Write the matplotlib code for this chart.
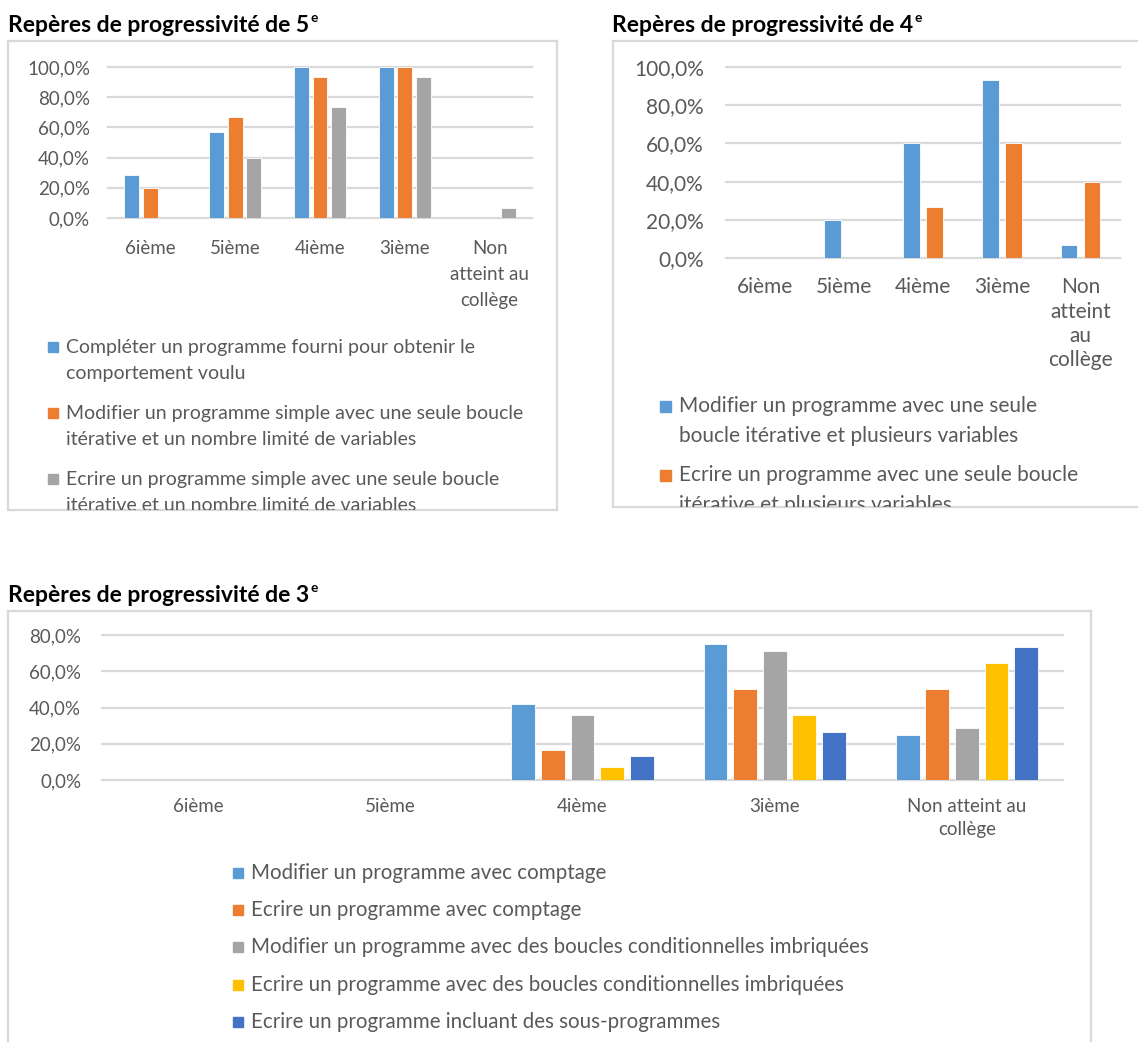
import matplotlib
matplotlib.use("Agg")
import matplotlib.pyplot as plt
from matplotlib.patches import Rectangle
from matplotlib.ticker import FuncFormatter
import numpy as np

plt.rcParams["font.family"] = ["Lato", "DejaVu Sans"]

W, H = 1138, 1042

# --- data -------------------------------------------------------------
cats_5e = ["6ième", "5ième", "4ième", "3ième", "Non\natteint au\ncollège"]
completer_5e = [28.6, 57.1, 100.0, 100.0, 0.0]
modifier_5e = [20.0, 66.7, 93.3, 100.0, 0.0]
ecrire_5e = [0.0, 40.0, 73.3, 93.3, 6.7]
labels_5e = [
    "Compléter un programme fourni pour obtenir le\ncomportement voulu",
    "Modifier un programme simple avec une seule boucle\nitérative et un nombre limité de variables",
    "Ecrire un programme simple avec une seule boucle\nitérative et un nombre limité de variables",
]

cats_4e = ["6ième", "5ième", "4ième", "3ième", "Non\natteint\nau\ncollège"]
modifier_4e = [0.0, 20.0, 60.0, 93.3, 6.7]
ecrire_4e = [0.0, 0.0, 26.7, 60.0, 40.0]
labels_4e = [
    "Modifier un programme avec une seule\nboucle itérative et plusieurs variables",
    "Ecrire un programme avec une seule boucle\nitérative et plusieurs variables",
]

cats_3e = ["6ième", "5ième", "4ième", "3ième", "Non atteint au\ncollège"]
mod_comptage_3e = [0.0, 0.0, 41.7, 75.0, 25.0]
ecr_comptage_3e = [0.0, 0.0, 16.7, 50.0, 50.0]
mod_boucles_3e = [0.0, 0.0, 35.7, 71.4, 28.6]
ecr_boucles_3e = [0.0, 0.0, 7.1, 35.7, 64.3]
sous_prog_3e = [0.0, 0.0, 13.3, 26.7, 73.3]
labels_3e = [
    "Modifier un programme avec comptage",
    "Ecrire un programme avec comptage",
    "Modifier un programme avec des boucles conditionnelles imbriquées",
    "Ecrire un programme avec des boucles conditionnelles imbriquées",
    "Ecrire un programme incluant des sous-programmes",
]

# --- styles -----------------------------------------------------------
BLUE, ORANGE, GREY, YELLOW, DBLUE = "#5B9BD5", "#ED7D31", "#A5A5A5", "#FFC000", "#4472C4"
TXT = "#595959"
LINE = "#D9D9D9"

fig = plt.figure(figsize=(W / 100, H / 100), dpi=100)


def px_rect(x0, y0, x1, y1):
    return [x0 / W, 1 - y1 / H, (x1 - x0) / W, (y1 - y0) / H]


def pct(v, pos):
    return f"{v:.1f}".replace(".", ",") + "%"


def frame(x0, y0, x1, y1):
    fr = fig.add_axes(px_rect(x0, y0, x1, y1), zorder=0)
    fr.set_xlim(x0, x1)
    fr.set_ylim(y1, y0)
    fr.set_xticks([])
    fr.set_yticks([])
    for s in fr.spines.values():
        s.set_color(LINE)
        s.set_linewidth(1.6)
    return fr


def title(x, y, main, sup, fs=16.5):
    t = fig.text(x / W, 1 - y / H, main, fontsize=fs, fontweight="bold",
                 va="center", ha="left", color="black")
    bb = t.get_window_extent(renderer=fig.canvas.get_renderer())
    fig.text((bb.x1 + 1) / W, 1 - (y - 7) / H, sup, fontsize=fs * 0.6,
             fontweight="bold", va="center", ha="left", color="black")


def bars(rect, cats, series, colors, step, width, ymax, ystep, fs, xpad, ypad, lsp):
    ax = fig.add_axes(px_rect(*rect), zorder=2)
    ax.set_facecolor("none")
    x = np.arange(len(cats))
    n = len(series)
    for i, (vals, c) in enumerate(zip(series, colors)):
        ax.bar(x + (i - (n - 1) / 2) * step, vals, width, color=c,
               edgecolor="white", linewidth=0.6, zorder=3)
    ax.set_xlim(-0.5, len(cats) - 0.5)
    ax.set_ylim(0, ymax)
    ax.set_yticks(np.arange(0, ymax + 0.1, ystep))
    ax.yaxis.set_major_formatter(FuncFormatter(pct))
    ax.set_xticks(x, cats)
    ax.grid(axis="y", color=LINE, linewidth=1.6, zorder=0)
    for gl in ax.get_ygridlines():
        gl.set_clip_on(False)
    for s in ax.spines.values():
        s.set_visible(False)
    ax.tick_params(length=0, colors=TXT, labelsize=fs)
    ax.tick_params(axis="x", pad=xpad)
    ax.tick_params(axis="y", pad=ypad)
    for t in ax.get_xticklabels():
        t.set_linespacing(lsp)
    return ax


def legend(fr, x_sq, x_txt, y0, line_gap, entry_gap, labels, colors, fs, sq=10):
    y = y0
    for lab, c in zip(labels, colors):
        fr.add_patch(Rectangle((x_sq, y - sq / 2), sq, sq, color=c, clip_on=True))
        for k, line in enumerate(lab.split("\n")):
            fr.text(x_txt, y + k * line_gap, line, fontsize=fs, color=TXT,
                    va="center", ha="left", clip_on=True)
        y += (lab.count("\n")) * line_gap + entry_gap


# --- Repères de 5e ----------------------------------------------------
fr1 = frame(8, 41, 557, 510)
title(8, 25, "Repères de progressivité de 5", "e")
bars((108, 67, 532, 218), cats_5e, [completer_5e, modifier_5e, ecrire_5e],
     [BLUE, ORANGE, GREY], 0.22, 0.175, 100, 20, 13.5, 16, 13, 1.62)
legend(fr1, 48, 66, 347, 26, 40, labels_5e, [BLUE, ORANGE, GREY], 14)

# --- Repères de 4e ----------------------------------------------------
fr2 = frame(613, 41, 1145, 507)
title(612, 25, "Repères de progressivité de 4", "e")
bars((726, 67, 1120, 258), cats_4e, [modifier_4e, ecrire_4e],
     [BLUE, ORANGE], 0.29, 0.21, 100, 20, 15, 14, 16, 1.27)
legend(fr2, 660, 679, 406, 30, 39, labels_4e, [BLUE, ORANGE], 15, sq=11)

# --- Repères de 3e ----------------------------------------------------
fr3 = frame(8, 611, 1091, 1060)
title(8, 595, "Repères de progressivité de 3", "e")
bars((102, 635, 1063, 780), cats_3e,
     [mod_comptage_3e, ecr_comptage_3e, mod_boucles_3e, ecr_boucles_3e, sous_prog_3e],
     [BLUE, ORANGE, GREY, YELLOW, DBLUE], 0.154, 0.124, 80, 20, 13.5, 13, 15, 1.42)
legend(fr3, 233, 251, 873, 0, 37.2, labels_3e,
       [BLUE, ORANGE, GREY, YELLOW, DBLUE], 14.8)

fig.savefig("out.png", dpi=100)
